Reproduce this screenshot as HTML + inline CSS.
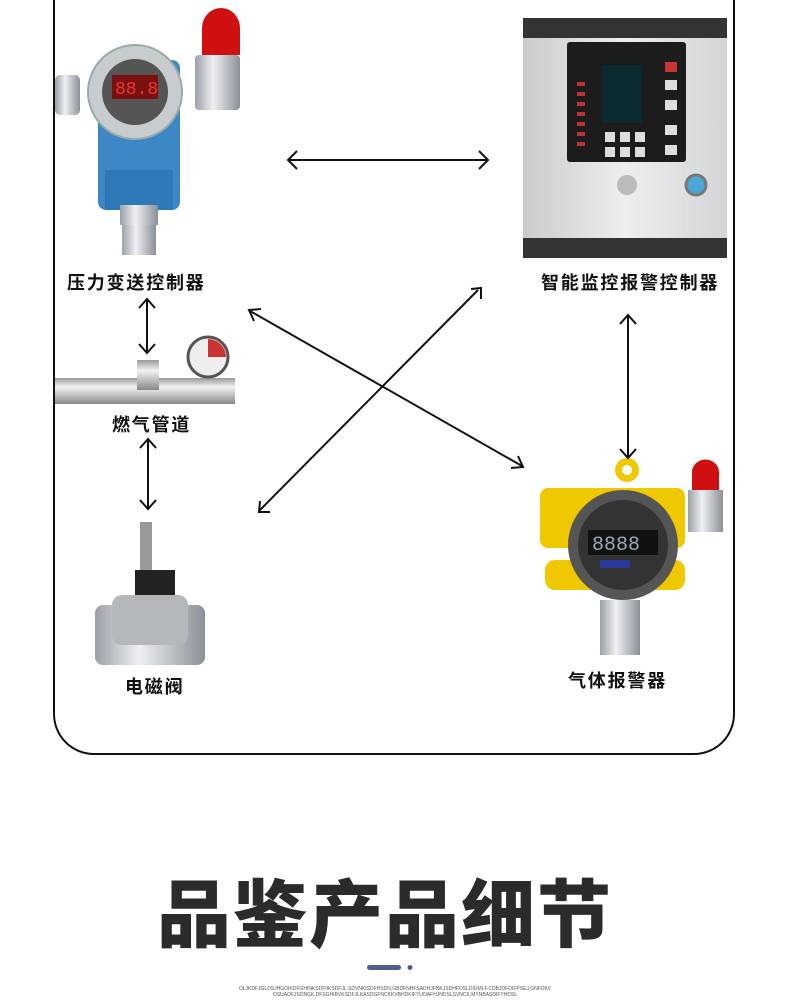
<!DOCTYPE html>
<html><head><meta charset="utf-8"><style>
html,body{margin:0;padding:0;background:#fff;}
body{width:790px;height:1000px;position:relative;overflow:hidden;font-family:"Liberation Sans","Noto Sans CJK SC",sans-serif;}
.lbl{position:absolute;font-weight:bold;font-size:18px;color:#111;white-space:nowrap;letter-spacing:1.8px;}
</style></head><body>
<svg width="790" height="1000" style="position:absolute;left:0;top:0">
<defs>
<linearGradient id="pipe" x1="0" y1="0" x2="0" y2="1"><stop offset="0" stop-color="#999"/><stop offset=".35" stop-color="#f2f2f2"/><stop offset="1" stop-color="#888"/></linearGradient>
<linearGradient id="steel" x1="0" y1="0" x2="1" y2="0"><stop offset="0" stop-color="#9aa0a6"/><stop offset=".4" stop-color="#eef0f2"/><stop offset="1" stop-color="#8a9096"/></linearGradient>
<linearGradient id="box" x1="0" y1="0" x2="1" y2="0"><stop offset="0" stop-color="#c9cbcd"/><stop offset=".5" stop-color="#eceeef"/><stop offset="1" stop-color="#d3d5d7"/></linearGradient>
</defs>
<path d="M54 0 V714 A40 40 0 0 0 94 754 H694 A40 40 0 0 0 734 714 V0" fill="none" stroke="#111" stroke-width="2"/>
<rect x="55" y="75" width="25" height="40" rx="5" fill="url(#steel)"/>
<rect x="98" y="60" width="82" height="150" rx="8" fill="#3d87c4"/>
<rect x="105" y="170" width="68" height="40" fill="#2f78b8"/>
<rect x="120" y="205" width="38" height="20" fill="url(#steel)"/>
<rect x="122" y="225" width="34" height="30" fill="url(#steel)"/>
<circle cx="135" cy="92" r="47" fill="#c8cccf" stroke="#9aa" stroke-width="2"/>
<circle cx="135" cy="92" r="33" fill="#555"/>
<rect x="112" y="75" width="46" height="24" fill="#7a1010"/>
<text x="115" y="94" font-family="Liberation Mono" font-size="18" fill="#e33">88.8</text>
<rect x="195" y="55" width="45" height="55" rx="4" fill="url(#steel)"/>
<path d="M202 55 V28 A19 20 0 0 1 240 28 V55 Z" fill="#d01010"/>
<rect x="523" y="18" width="204" height="240" fill="url(#box)"/>
<rect x="523" y="18" width="204" height="20" fill="#333"/>
<rect x="523" y="238" width="204" height="20" fill="#333"/>
<rect x="567" y="42" width="119" height="120" rx="3" fill="#1c1c1c"/>
<rect x="602" y="65" width="40" height="58" fill="#0a2a30"/>
<g fill="#b33"><rect x="577" y="82" width="8" height="4"/><rect x="577" y="92" width="8" height="4"/><rect x="577" y="102" width="8" height="4"/><rect x="577" y="112" width="8" height="4"/><rect x="577" y="122" width="8" height="4"/><rect x="577" y="132" width="8" height="4"/><rect x="577" y="142" width="8" height="4"/></g>
<g fill="#ddd"><rect x="665" y="80" width="12" height="10"/><rect x="665" y="100" width="12" height="10"/><rect x="665" y="125" width="12" height="10"/><rect x="665" y="145" width="12" height="10"/><rect x="605" y="132" width="10" height="10"/><rect x="620" y="132" width="10" height="10"/><rect x="635" y="132" width="10" height="10"/><rect x="605" y="147" width="10" height="10"/><rect x="620" y="147" width="10" height="10"/><rect x="635" y="147" width="10" height="10"/></g>
<rect x="665" y="62" width="12" height="10" fill="#c33"/>
<circle cx="627" cy="185" r="10" fill="#bbb"/>
<circle cx="696" cy="185" r="10" fill="#4aa8d8" stroke="#777" stroke-width="3"/>
<rect x="55" y="378" width="180" height="26" fill="url(#pipe)"/>
<rect x="137" y="360" width="22" height="30" fill="url(#pipe)"/>
<circle cx="208" cy="357" r="20" fill="#eee" stroke="#555" stroke-width="3"/>
<path d="M208 357 L208 339 A18 18 0 0 1 226 357 Z" fill="#c33"/>
<rect x="140" y="522" width="12" height="60" fill="#999"/>
<rect x="135" y="570" width="40" height="30" fill="#222"/>
<rect x="95" y="605" width="110" height="60" rx="8" fill="url(#steel)"/>
<rect x="112" y="595" width="76" height="50" rx="10" fill="#b5b8bb"/>
<rect x="540" y="488" width="145" height="60" rx="8" fill="#f0c800"/>
<circle cx="627" cy="470" r="12" fill="#f0c800"/><circle cx="627" cy="470" r="5" fill="#fff"/>
<rect x="545" y="560" width="140" height="30" rx="10" fill="#f0c800"/>
<circle cx="623" cy="545" r="55" fill="#555"/>
<circle cx="623" cy="545" r="45" fill="#333"/>
<rect x="588" y="530" width="70" height="25" fill="#111"/>
<text x="592" y="550" font-family="Liberation Mono" font-size="20" fill="#9ab">8888</text>
<rect x="600" y="560" width="30" height="8" fill="#2a3a9a"/>
<rect x="600" y="600" width="40" height="55" fill="url(#steel)"/>
<rect x="688" y="490" width="35" height="42" fill="url(#steel)"/>
<path d="M692 490 V472 A13 12 0 0 1 719 472 V490 Z" fill="#d01010"/>
<g fill="none" stroke="#111" stroke-width="2">
<line x1="289" y1="160" x2="487" y2="160"/><path d="M297 151 L288 160 L297 169 M479 151 L488 160 L479 169"/>
<line x1="147" y1="300" x2="147" y2="352"/><path d="M139 308 L147 299 L155 308 M139 344 L147 353 L155 344"/>
<line x1="148" y1="440" x2="148" y2="508"/><path d="M140 448 L148 439 L156 448 M140 500 L148 509 L156 500"/>
<line x1="628" y1="315" x2="628" y2="458"/><path d="M620 324 L628 315 L636 324 M620 449 L628 458 L636 449"/>
<line x1="250" y1="311" x2="522" y2="466"/><path d="M254 321 L249 310 L261 309 M511 468 L523 467 L518 456"/>
<line x1="478" y1="290" x2="259" y2="511"/><path d="M471 289 L481 288 L481 299 M260 501 L259 512 L270 512"/>
</g>
<rect x="367" y="965" width="34" height="5" rx="2.5" fill="#4f5f8c"/>
<circle cx="410" cy="967.5" r="2.5" fill="#4f5f8c"/>
</svg>
<div class="lbl" style="left:67px;top:269px;">压力变送控制器</div>
<div class="lbl" style="left:541px;top:269px;">智能监控报警控制器</div>
<div class="lbl" style="left:112px;top:411px;">燃气管道</div>
<div class="lbl" style="left:125px;top:673px;">电磁阀</div>
<div class="lbl" style="left:568px;top:667px;">气体报警器</div>
<div style="position:absolute;left:150px;top:871px;width:470px;text-align:center;font-size:74px;font-weight:900;color:#2b2b2b;letter-spacing:2px;line-height:90px;font-family:'Liberation Sans','Noto Sans CJK SC',sans-serif;">品鉴产品细节</div>
<div style="position:absolute;left:230px;top:986px;width:330px;text-align:center;font-size:5px;line-height:6px;color:#555;">OLJKDFJGLDSJHGOIKDFGHINKSDFIIKSDFJL,SDVNKISDFHSDN,GBDFNHFSADHJFNKJSDHFOSLDIUMLF.CDBJDFOIFPSEJ,GNFDKV<br>OSUAOFJSDNGK,DFSGHIBVKSDFJLKASDGFNCKKVBHDKIFYUOAFHJNDSLSVNCK,MYNBASDIFYHDSL</div>
</body></html>
